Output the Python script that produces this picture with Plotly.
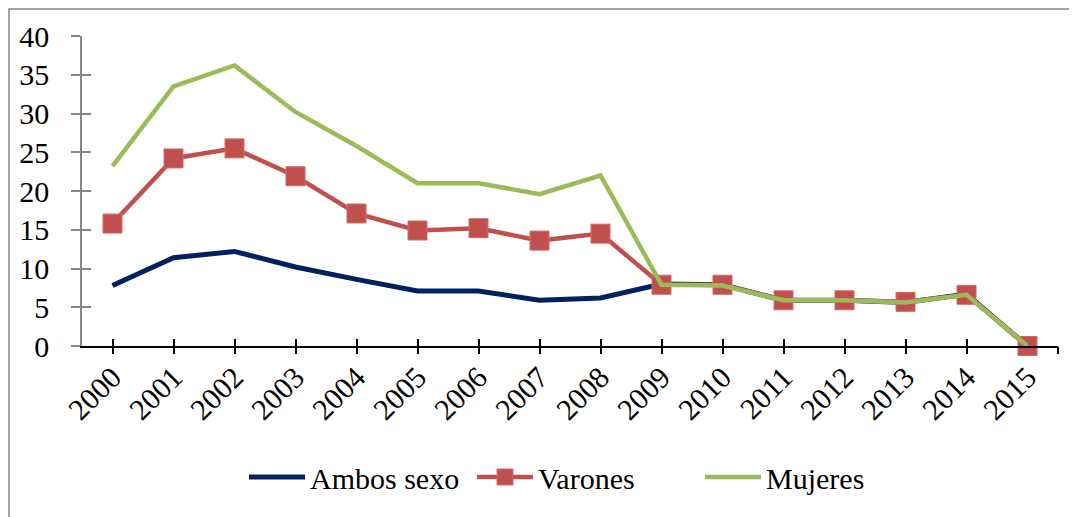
import plotly.graph_objects as go

years = ["2000", "2001", "2002", "2003", "2004", "2005", "2006", "2007",
         "2008", "2009", "2010", "2011", "2012", "2013", "2014", "2015"]
ambos = [7.8, 11.4, 12.2, 10.2, 8.6, 7.1, 7.1, 5.9, 6.2, 8.0, 7.9, 5.9, 5.9, 5.6, 6.7, 0.0]
varones = [15.8, 24.2, 25.5, 21.9, 17.1, 14.9, 15.2, 13.6, 14.5, 7.9, 7.9, 5.9, 5.9, 5.7, 6.6, 0.0]
mujeres = [23.2, 33.5, 36.2, 30.2, 25.8, 21.0, 21.0, 19.6, 22.0, 7.9, 7.8, 5.9, 5.9, 5.6, 6.6, 0.0]
y_ticks = [0, 5, 10, 15, 20, 25, 30, 35, 40]

idx = list(range(len(years)))
tick_pos = idx[:-1] + [len(years) - 0.5]
FONT = "Times New Roman"
FS = 30

W, H = 1069, 509
L, R, T, B = 74, 19, 28, 171
PW, PH = W - L - R, H - T - B

fig = go.Figure()
fig.add_trace(go.Scatter(x=idx, y=ambos, name="Ambos sexo", mode="lines",
                         line=dict(color="#002060", width=5), cliponaxis=False))
fig.add_trace(go.Scatter(x=idx, y=varones, name="Varones", mode="lines+markers",
                         line=dict(color="#C0504D", width=4.5),
                         marker=dict(symbol="square", size=19, color="#C0504D",
                                     line=dict(color="#D06A67", width=1)),
                         cliponaxis=False))
fig.add_trace(go.Scatter(x=idx, y=mujeres, name="Mujeres", mode="lines",
                         line=dict(color="#9BBB59", width=4.5), cliponaxis=False))
# invisible helpers so overlay axes (crossing tick marks) are rendered
fig.add_trace(go.Scatter(x=idx, y=ambos, mode="none", showlegend=False,
                         hoverinfo="skip", xaxis="x2", yaxis="y2"))
fig.add_trace(go.Scatter(x=idx, y=ambos, mode="none", showlegend=False,
                         hoverinfo="skip", xaxis="x3", yaxis="y2"))

xr = [-0.5, len(years) - 0.5]
fig.update_layout(
    width=W, height=H,
    margin=dict(l=L, r=R, t=T, b=B),
    paper_bgcolor="white", plot_bgcolor="white",
    font=dict(family=FONT, size=FS, color="black"),
    showlegend=True,
    legend=dict(orientation="h", x=(244 - 82) / PW, xanchor="left",
                y=(346 - 477) / PH, yanchor="middle",
                font=dict(family=FONT, size=FS, color="black"),
                bgcolor="rgba(0,0,0,0)", itemwidth=56,
                entrywidth=157, entrywidthmode="pixels"),
    xaxis=dict(range=xr, tickmode="array", tickvals=idx, ticktext=years,
               tickangle=-45, ticks="", showgrid=False, zeroline=False,
               showline=True, linecolor="black", linewidth=1.5,
               tickfont=dict(family=FONT, size=FS, color="black")),
    xaxis2=dict(range=xr, overlaying="x", anchor="y", tickmode="array",
                tickvals=tick_pos, ticks="outside", ticklen=7, tickwidth=1.5,
                tickcolor="black", showticklabels=False, showgrid=False,
                zeroline=False, showline=False),
    xaxis3=dict(range=xr, overlaying="x", anchor="y", tickmode="array",
                tickvals=tick_pos, ticks="inside", ticklen=7, tickwidth=1.5,
                tickcolor="black", showticklabels=False, showgrid=False,
                zeroline=False, showline=False),
    yaxis=dict(range=[0, 40], tickmode="array", tickvals=y_ticks,
               ticks="outside", ticklen=9, tickwidth=1.5, tickcolor="#868686",
               showline=True, linecolor="#868686", linewidth=1.5,
               showgrid=False, zeroline=False, ticklabelstandoff=16,
               tickfont=dict(family=FONT, size=FS, color="black")),
    yaxis2=dict(range=[0, 40], overlaying="y", anchor="x", tickmode="array",
                tickvals=y_ticks, ticks="inside", ticklen=9, tickwidth=1.5,
                tickcolor="#868686", showticklabels=False, showgrid=False,
                zeroline=False, showline=False),
    shapes=[dict(type="rect", xref="paper", yref="paper",
                 x0=(1 - L) / PW, x1=(W + 10 - L) / PW,
                 y0=(PH + T - H - 10) / PH, y1=(PH + T - 1) / PH,
                 line=dict(color="#868686", width=1.5), fillcolor="rgba(0,0,0,0)",
                 layer="below")],
)

fig.write_html("out.html")
